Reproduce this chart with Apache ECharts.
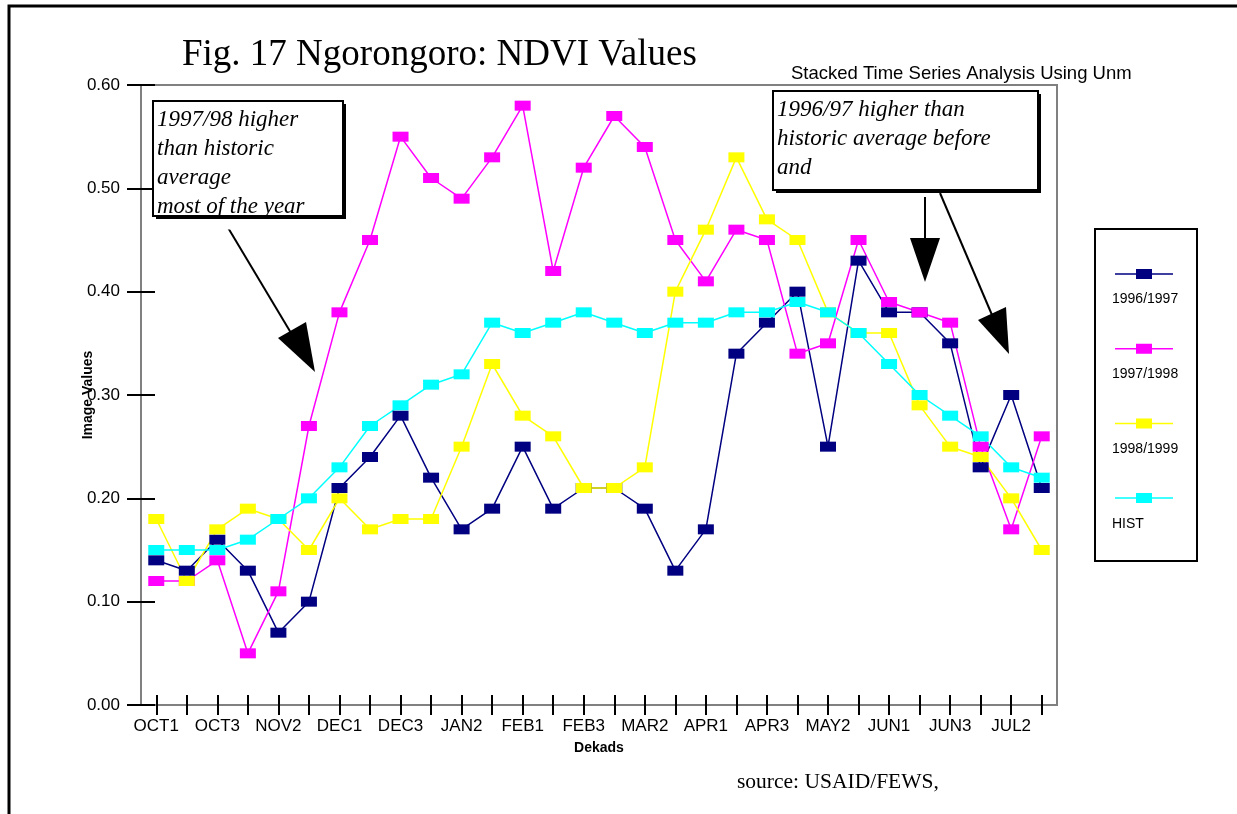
<!DOCTYPE html>
<html>
<head>
<meta charset="utf-8">
<title>Fig. 17 Ngorongoro: NDVI Values</title>
<script src="https://cdn.jsdelivr.net/npm/echarts@6/dist/echarts.min.js"></script>
<style>
  html, body { margin: 0; padding: 0; background: #fff; }
  #chartmain { width: 1237px; height: 814px; }
</style>
</head>
<body>
<div id="chartmain"></div>
<script>
// dekads on the x axis
var dekads = ['OCT1', 'OCT2', 'OCT3', 'NOV1', 'NOV2', 'NOV3', 'DEC1', 'DEC2', 'DEC3',
  'JAN1', 'JAN2', 'JAN3', 'FEB1', 'FEB2', 'FEB3', 'MAR1', 'MAR2', 'MAR3',
  'APR1', 'APR2', 'APR3', 'MAY1', 'MAY2', 'MAY3', 'JUN1', 'JUN2', 'JUN3',
  'JUL1', 'JUL2', 'JUL3'];

var names = ['1996/1997', '1997/1998', '1998/1999', 'HIST'];
var colors = ['#000080', '#ff00ff', '#ffff00', '#00ffff'];

var y9697 = [0.14, 0.13, 0.16, 0.13, 0.07, 0.10, 0.21, 0.24, 0.28, 0.22, 0.17, 0.19, 0.25, 0.19, 0.21,
  0.21, 0.19, 0.13, 0.17, 0.34, 0.37, 0.40, 0.25, 0.43, 0.38, 0.38, 0.35, 0.23, 0.30, 0.21];
var y9798 = [0.12, 0.12, 0.14, 0.05, 0.11, 0.27, 0.38, 0.45, 0.55, 0.51, 0.49, 0.53, 0.58, 0.42, 0.52,
  0.57, 0.54, 0.45, 0.41, 0.46, 0.45, 0.34, 0.35, 0.45, 0.39, 0.38, 0.37, 0.25, 0.17, 0.26];
var y9899 = [0.18, 0.12, 0.17, 0.19, 0.18, 0.15, 0.20, 0.17, 0.18, 0.18, 0.25, 0.33, 0.28, 0.26, 0.21,
  0.21, 0.23, 0.40, 0.46, 0.53, 0.47, 0.45, 0.38, 0.36, 0.36, 0.29, 0.25, 0.24, 0.20, 0.15];
var hist = [0.15, 0.15, 0.15, 0.16, 0.18, 0.20, 0.23, 0.27, 0.29, 0.31, 0.32, 0.37, 0.36, 0.37, 0.38,
  0.37, 0.36, 0.37, 0.37, 0.38, 0.38, 0.39, 0.38, 0.36, 0.33, 0.30, 0.28, 0.26, 0.23, 0.22];

var allData = [y9697, y9798, y9899, hist];

var serif = "'Liberation Serif', 'Times New Roman', serif";
var sans = "'Liberation Sans', Arial, sans-serif";

var seriesList = [];
for (var i = 0; i < names.length; i++) {
  seriesList.push({
    name: names[i],
    type: 'line',
    data: allData[i],
    symbol: 'rect',
    symbolSize: [16, 10],
    showAllSymbol: true,
    color: colors[i],
    lineStyle: { color: colors[i], width: 1.5 },
    itemStyle: { color: colors[i] },
    emphasis: { disabled: true }
  });
}

// legend labels sit under the icons
var legendTexts = [];
for (var k = 0; k < names.length; k++) {
  legendTexts.push({
    type: 'text', left: 1112, top: 292 + k * 75.2, z: 100,
    style: { text: names[k], font: '14px ' + sans, fill: '#000' }
  });
}

function arrow(x1, y1, x2, y2, head) {
  return [
    { type: 'line', z: 50, shape: { x1: x1, y1: y1, x2: x2, y2: y2 }, style: { stroke: '#000', lineWidth: 2 } },
    { type: 'polygon', z: 50, shape: { points: head }, style: { fill: '#000' } }
  ];
}

var tickStyle = { color: '#000', width: 2 };

var option = {
  animation: false,
  backgroundColor: '#fff',
  title: [{
    text: 'Fig. 17 Ngorongoro: NDVI Values',
    left: 177, top: 32,
    textStyle: { fontFamily: serif, fontSize: 37, fontWeight: 'normal', color: '#000' }
  }, {
    text: 'Stacked Time Series Analysis Using Unm',
    left: 786, top: 59,
    textStyle: { fontFamily: sans, fontSize: 18.5, fontWeight: 'normal', color: '#000' }
  }, {
    text: 'source: USAID/FEWS,',
    left: 732, top: 766,
    textStyle: { fontFamily: serif, fontSize: 21.5, fontWeight: 'normal', color: '#000' }
  }],
  legend: {
    orient: 'vertical',
    left: 1110, top: 264,
    z: 10,
    itemWidth: 58, itemHeight: 10, itemGap: 64.7,
    icon: 'path://M0,4.25L21,4.25L21,0L37,0L37,4.25L58,4.25L58,5.75L37,5.75L37,10L21,10L21,5.75L0,5.75Z',
    formatter: function () { return ''; },
    textStyle: { fontSize: 6 },
    selectedMode: false,
    data: names
  },
  grid: {
    left: 141, top: 85, width: 916, height: 620,
    show: true, borderColor: '#808080', borderWidth: 2
  },
  xAxis: [{
    type: 'category',
    position: 'bottom',
    data: dekads,
    boundaryGap: true,
    name: 'Dekads',
    nameLocation: 'middle',
    nameGap: 36,
    nameMoveOverlap: false,
    nameTextStyle: { fontFamily: sans, fontSize: 14, fontWeight: 'bold', color: '#000' },
    axisLine: { show: true, lineStyle: { color: '#808080', width: 2 } },
    axisTick: { show: true, alignWithLabel: true, interval: 0, length: 10, lineStyle: tickStyle },
    axisLabel: { interval: 1, margin: 13, fontFamily: sans, fontSize: 17, color: '#000' },
    splitLine: { show: false }
  }, {
    type: 'category',
    position: 'bottom',
    data: dekads,
    boundaryGap: true,
    axisLine: { show: false },
    axisTick: { show: true, inside: true, alignWithLabel: true, interval: 0, length: 10, lineStyle: tickStyle },
    axisLabel: { show: false },
    splitLine: { show: false }
  }],
  yAxis: [{
    type: 'value',
    position: 'left',
    min: 0, max: 0.6, interval: 0.1,
    name: 'Image Values',
    nameLocation: 'middle',
    nameGap: 46,
    nameMoveOverlap: false,
    nameTextStyle: { fontFamily: sans, fontSize: 14, fontWeight: 'bold', color: '#000' },
    axisLine: { show: true, lineStyle: { color: '#808080', width: 2 } },
    axisTick: { show: true, length: 14, lineStyle: tickStyle },
    axisLabel: {
      margin: 21, fontFamily: sans, fontSize: 17, color: '#000',
      formatter: function (v) { return v.toFixed(2); }
    },
    splitLine: { show: false }
  }, {
    type: 'value',
    position: 'left',
    min: 0, max: 0.6, interval: 0.1,
    axisLine: { show: false },
    axisTick: { show: true, inside: true, length: 14, lineStyle: tickStyle },
    axisLabel: { show: false },
    splitLine: { show: false }
  }],
  series: seriesList,
  graphic: [
    // outer frame
    { type: 'rect', z: 40, shape: { x: 9, y: 6, width: 1400, height: 1000 }, style: { fill: null, stroke: '#000', lineWidth: 3 } },
    // note box 1
    { type: 'rect', z: 60, shape: { x: 156, y: 104, width: 190, height: 115 }, style: { fill: '#000' } },
    { type: 'rect', z: 61, shape: { x: 153, y: 101, width: 190, height: 115 }, style: { fill: '#fff' } },
    { type: 'text', z: 62, left: 157, top: 105,
      style: { text: '1997/98 higher\nthan historic\naverage\nmost of the year', font: 'italic 23px ' + serif, lineHeight: 29, fill: '#000' } },
    { type: 'rect', z: 63, shape: { x: 148, y: 219.5, width: 205, height: 10 }, style: { fill: '#fff' } },
    { type: 'rect', z: 64, shape: { x: 153, y: 101, width: 190, height: 115 }, style: { fill: null, stroke: '#000', lineWidth: 2 } },
    { type: 'rect', z: 64, shape: { x: 156, y: 216, width: 190, height: 3 }, style: { fill: '#000' } },
    // note box 2
    { type: 'rect', z: 60, shape: { x: 776, y: 94, width: 265, height: 99 }, style: { fill: '#000' } },
    { type: 'rect', z: 61, shape: { x: 773, y: 91, width: 265, height: 99 }, style: { fill: '#fff', stroke: '#000', lineWidth: 2 } },
    { type: 'text', z: 62, left: 777, top: 95,
      style: { text: '1996/97 higher than\nhistoric average before\nand', font: 'italic 23px ' + serif, lineHeight: 29, fill: '#000' } },
    // legend box
    { type: 'rect', z: 1, shape: { x: 1095, y: 229, width: 102, height: 332 }, style: { fill: '#fff', stroke: '#000', lineWidth: 2 } }
  ]
    .concat(arrow(227, 226, 300, 348, [[278, 338], [306, 322], [315, 372]]))
    .concat(arrow(925, 197, 925, 245, [[910, 238], [940, 238], [925, 282]]))
    .concat(arrow(940, 193, 995, 322, [[978, 320], [1006, 307], [1009, 354]]))
    .concat(legendTexts)
};

var myChart = echarts.init(document.getElementById('chartmain'));
myChart.setOption(option);
</script>
</body>
</html>
